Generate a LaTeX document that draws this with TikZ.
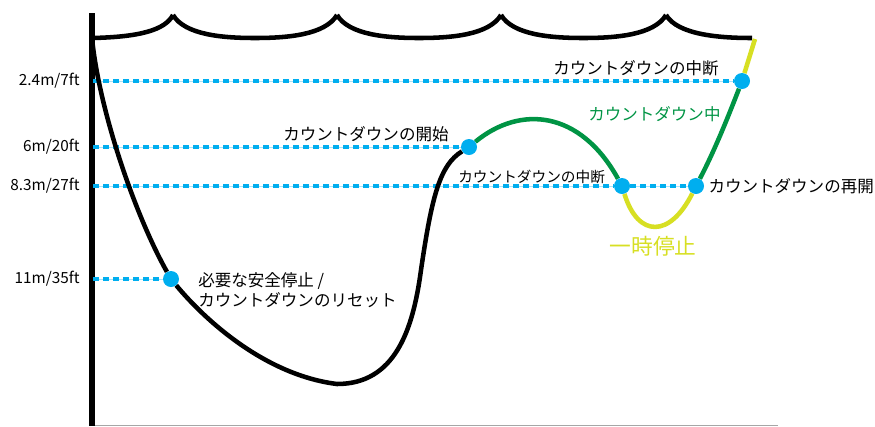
\documentclass[tikz,border=0pt]{standalone}
\usepackage{fontspec}
\setmainfont{Noto Sans CJK JP}
\usepackage{tikz}
\usetikzlibrary{positioning}
\definecolor{dotblue}{HTML}{00AEEF}
\definecolor{rungreen}{HTML}{009444}
\definecolor{pauseyellow}{HTML}{D7DF23}
\tikzset{
  marker/.style={circle,fill=dotblue,inner sep=0pt,minimum size=12pt},
  depthline/.style={dotblue,line width=2.5pt,dash pattern=on 4.5pt off 3pt},
  depthbase/.style={dotblue!35,line width=0.75pt},
  lbl/.style={inner sep=0pt,font=\fontsize{12.4}{15}\selectfont},
  depthlbl/.style={inner sep=0pt,anchor=east,font=\fontsize{11.5}{14}\selectfont},
  profile/.style={line width=3.4pt}
}
\begin{document}
\begin{tikzpicture}[x=0.75pt,y=-0.75pt,line join=round]
\useasboundingbox (0,0) rectangle (875,426);
\draw[black!35,line width=0.75pt] (90,425.5) -- (778,425.5);
\draw[line width=3.9pt] (92,13) -- (92,426);
\draw[profile] (92,38) .. controls (140,37) and (165,30) .. (173,15);
\foreach \a/\b in {173/337,337/501,501/666}
  \draw[profile] (\a,15) .. controls (\a+12,35) and (\a+50,38) .. ({(\a+\b)/2},38) .. controls (\b-50,38) and (\b-12,35) .. (\b,15);
\draw[profile] (666,15) .. controls (678,35) and (720,38) .. (752,38);
\coordinate (surfaceEnd) at (755,39);
\coordinate (a24) at (93,81);
\coordinate (a6) at (93,147);
\coordinate (a83) at (93,186);
\coordinate (a11) at (93,279);
\node[marker] (safety) at (171,279) {};
\node[marker] (start) at (469,147) {};
\node[marker] (stop) at (622,186) {};
\node[marker] (resume) at (696,186) {};
\node[marker] (break) at (742,81) {};
\foreach \n/\d in {a24/break,a6/start,a83/stop,stop/resume,a11/safety}{
  \draw[depthbase] (\n) -- (\d);
  \draw[depthline] (\n) -- (\d);
}
\draw[profile] (92,38) .. controls (99,110) and (135,215) .. (safety) .. controls (205,320) and (265,375) .. (337,384) .. controls (395,384) and (413,330) .. (421,270) .. controls (432,195) and (440,165) .. (start);
\draw[profile,rungreen] (start) .. controls (520,105) and (580,110) .. (stop);
\draw[profile,pauseyellow] (stop) .. controls (638,238) and (670,238) .. (resume);
\draw[profile,rungreen] (resume) .. controls (715,150) and (730,112) .. (break);
\draw[profile,pauseyellow] (break) -- (surfaceEnd);
\node[depthlbl] (d24) at (80,81) {2.4m/7ft};
\node[depthlbl] (d6) at (80,147) {6m/20ft};
\node[depthlbl] (d83) at (80,186) {8.3m/27ft};
\node[depthlbl] (d11) at (80,279) {11m/35ft};
\node[lbl,anchor=west] (breakLbl) at (553,68) {カウントダウンの中断};
\node[lbl,anchor=west,text=rungreen] (runLbl) at (588,114) {カウントダウン中};
\node[lbl,anchor=west] (startLbl) at (283,134) {カウントダウンの開始};
\node[lbl,anchor=west,font=\fontsize{11}{13}\selectfont] (stopLbl) at (458,177) {カウントダウンの中断};
\node[lbl,right=3pt of resume] (resumeLbl) {カウントダウンの再開};
\node[lbl,anchor=west,align=left] (safetyLbl) at (198,290) {必要な安全停止 /\\カウントダウンのリセット};
\node[lbl,text=pauseyellow,font=\fontsize{16.3}{18}\selectfont] (pauseLbl) at (653,246) {一時停止};
\end{tikzpicture}
\end{document}
